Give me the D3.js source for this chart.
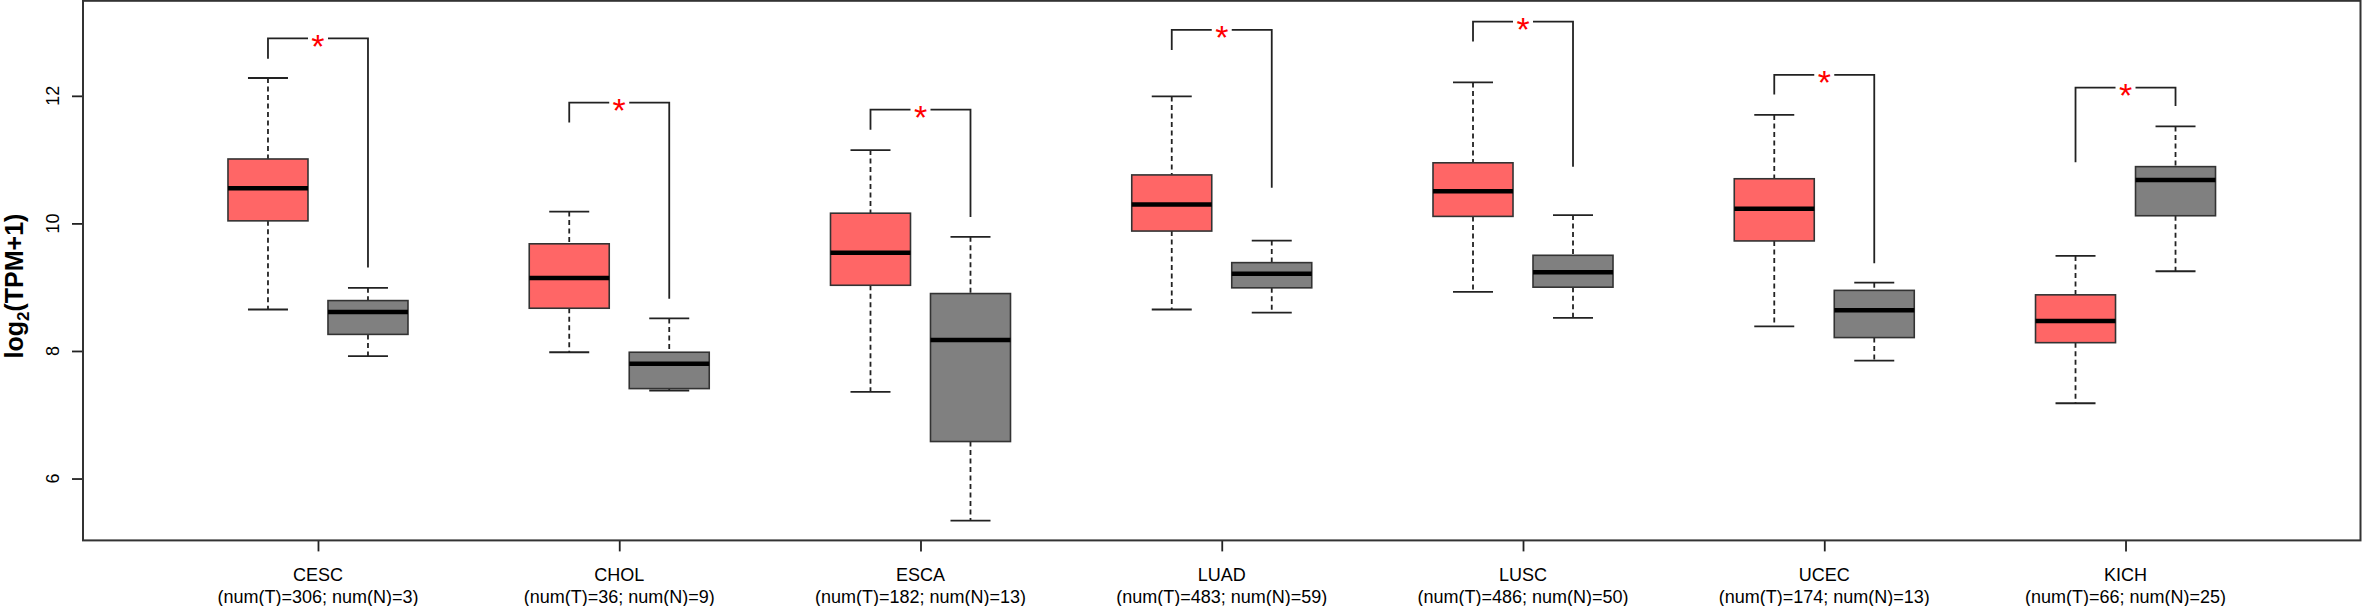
<!DOCTYPE html>
<html><head><meta charset="utf-8">
<script src="https://cdn.jsdelivr.net/npm/d3@7"></script>
<style>
body{margin:0;background:#fff}
svg{display:block}
text{font-family:"Liberation Sans",Arial,Helvetica,sans-serif;fill:#000}
</style>
</head><body><svg id="c" width="2362" height="606"></svg>
<script>
// ---- data ----
const categories = ["CESC","CHOL","ESCA","LUAD","LUSC","UCEC","KICH"];
const numT = [306, 36, 182, 483, 486, 174, 66];
const numN = [3, 9, 13, 59, 50, 13, 25];

const tumorMin = [8.65, 7.98, 7.36, 8.65, 8.925, 8.385, 7.18];
const tumorQ1  = [10.04, 8.67, 9.03, 9.88, 10.11, 9.725, 8.13];
const tumorMed = [10.55, 9.145, 9.54, 10.295, 10.505, 10.23, 8.47];
const tumorQ3  = [11.01, 9.68, 10.16, 10.76, 10.95, 10.70, 8.88];
const tumorMax = [12.28, 10.185, 11.15, 11.99, 12.21, 11.70, 9.49];

const normalMin = [7.92, 7.38, 5.34, 8.60, 8.52, 7.85, 9.25];
const normalQ1  = [8.26, 7.41, 6.58, 8.99, 9.00, 8.21, 10.12];
const normalMed = [8.61, 7.80, 8.17, 9.21, 9.235, 8.64, 10.68];
const normalQ3  = [8.79, 7.98, 8.90, 9.385, 9.50, 8.95, 10.89];
const normalMax = [8.99, 8.51, 9.79, 9.73, 10.13, 9.07, 11.52];

const bracketTop  = [12.90, 11.895, 11.785, 13.035, 13.165, 12.33, 12.13];
const bracketLegT = [12.58, 11.58, 11.47, 12.72, 12.85, 12.02, 10.96];
const bracketLegN = [9.31, 8.82, 10.10, 10.56, 10.89, 9.375, 11.84];
const significance = ["*","*","*","*","*","*","*"];

const yTicks = [6, 8, 10, 12];
const yDomain = [5.03, 13.49];

// ---- layout ----
const plot = {left: 83, right: 2360.5, top: 0.8, bottom: 540.4};
const boxOffset = 50, boxW = 80, capW = 40;
const colT = "#FF6666", colN = "#808080";

const svg = d3.select("#c");
const x = d3.scalePoint().domain(categories).range([plot.left, plot.right]).padding(0.78);
const y = d3.scaleLinear().domain(yDomain).range([plot.bottom, plot.top]);

// y axis
const gy = svg.append("g").attr("transform", `translate(${plot.left},0)`)
  .call(d3.axisLeft(y).tickValues(yTicks).tickSize(11).tickFormat(""));
gy.select(".domain").remove();
gy.selectAll(".tick line").attr("stroke", "#222").attr("stroke-width", 1.8);
svg.append("g").selectAll("text").data(yTicks).join("text")
  .attr("transform", d => `translate(58.5,${y(d)}) rotate(-90)`)
  .attr("text-anchor", "middle").style("font-size", "18px").text(d => d);

// y title
const t = svg.append("text").attr("transform", "translate(22.5,286) rotate(-90)")
  .attr("text-anchor", "middle").style("font-size", "25px").style("font-weight", "bold");
t.append("tspan").text("log");
t.append("tspan").attr("dy", 6).style("font-size", "17px").text("2");
t.append("tspan").attr("dy", -6).text("(TPM+1)");

// x axis
const gx = svg.append("g").attr("transform", `translate(0,${plot.bottom})`)
  .call(d3.axisBottom(x).tickSize(11).tickFormat(""));
gx.select(".domain").remove();
gx.selectAll(".tick line").attr("stroke", "#222").attr("stroke-width", 1.8);
const xl = svg.append("g").selectAll("g").data(categories).join("g");
xl.append("text").attr("x", d => x(d)).attr("y", 581).attr("text-anchor", "middle")
  .style("font-size", "18px").text(d => d);
xl.append("text").attr("x", d => x(d)).attr("y", 603).attr("text-anchor", "middle")
  .style("font-size", "18px").text((d, i) => `(num(T)=${numT[i]}; num(N)=${numN[i]})`);

// frame
svg.append("rect").attr("x", plot.left).attr("y", plot.top)
  .attr("width", plot.right - plot.left).attr("height", plot.bottom - plot.top)
  .attr("fill", "none").attr("stroke", "#333").attr("stroke-width", 2);

// boxes
const boxes = [];
categories.forEach((c, i) => {
  boxes.push({cx: x(c) - boxOffset, min: tumorMin[i], q1: tumorQ1[i], med: tumorMed[i], q3: tumorQ3[i], max: tumorMax[i], fill: colT});
  boxes.push({cx: x(c) + boxOffset, min: normalMin[i], q1: normalQ1[i], med: normalMed[i], q3: normalQ3[i], max: normalMax[i], fill: colN});
});
const gb = svg.append("g").selectAll("g").data(boxes).join("g");
gb.append("line").attr("x1", d => d.cx).attr("x2", d => d.cx)
  .attr("y1", d => y(d.max)).attr("y2", d => y(d.q3))
  .attr("stroke", "#222").attr("stroke-width", 1.8).attr("stroke-dasharray", "5,3.5");
gb.append("line").attr("x1", d => d.cx).attr("x2", d => d.cx)
  .attr("y1", d => y(d.q1)).attr("y2", d => y(d.min))
  .attr("stroke", "#222").attr("stroke-width", 1.8).attr("stroke-dasharray", "5,3.5");
gb.append("line").attr("x1", d => d.cx - capW / 2).attr("x2", d => d.cx + capW / 2)
  .attr("y1", d => y(d.max)).attr("y2", d => y(d.max)).attr("stroke", "#222").attr("stroke-width", 1.8);
gb.append("line").attr("x1", d => d.cx - capW / 2).attr("x2", d => d.cx + capW / 2)
  .attr("y1", d => y(d.min)).attr("y2", d => y(d.min)).attr("stroke", "#222").attr("stroke-width", 1.8);
gb.append("rect").attr("x", d => d.cx - boxW / 2).attr("width", boxW)
  .attr("y", d => y(d.q3)).attr("height", d => y(d.q1) - y(d.q3))
  .attr("fill", d => d.fill).attr("stroke", "#333").attr("stroke-width", 1.6);
gb.append("line").attr("x1", d => d.cx - boxW / 2).attr("x2", d => d.cx + boxW / 2)
  .attr("y1", d => y(d.med)).attr("y2", d => y(d.med)).attr("stroke", "#000").attr("stroke-width", 4.5);

// significance brackets
const gs = svg.append("g").selectAll("g").data(categories).join("g");
gs.append("path").attr("fill", "none").attr("stroke", "#222").attr("stroke-width", 1.8)
  .attr("d", (c, i) => {
    const xc = x(c), xt = xc - boxOffset, xn = xc + boxOffset, yt = y(bracketTop[i]);
    return `M${xt},${y(bracketLegT[i])}V${yt}H${xc - 10}M${xc + 10},${yt}H${xn}V${y(bracketLegN[i])}`;
  });
gs.append("text").attr("x", c => x(c)).attr("y", (c, i) => y(bracketTop[i]) + 19.5)
  .attr("text-anchor", "middle").style("font-size", "34px").style("fill", "#FF0000")
  .text((c, i) => significance[i]);
</script>
</body></html>
